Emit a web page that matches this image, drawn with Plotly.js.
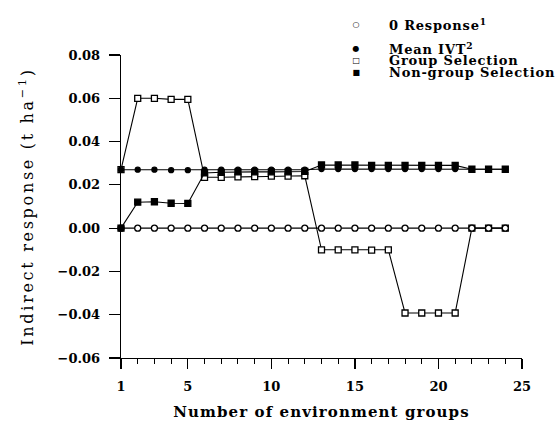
<!DOCTYPE html>
<html>
<head>
<meta charset="utf-8">
<script src="https://cdn.plot.ly/plotly-3.0.1.min.js"></script>
<style>
html,body{margin:0;padding:0;background:#fff;}
#chart{width:556px;height:421px;}
#chart .xtitle{letter-spacing:1.1px;}
#chart .ytitle{letter-spacing:2.7px;}
#chart .annotation-text{letter-spacing:0.8px;}
</style>
</head>
<body>
<div id="chart"></div>
<script>
// ---- data ----
var envGroups = [1,2,3,4,5,6,7,8,9,10,11,12,13,14,15,16,17,18,19,20,21,22,23,24];
var zeroResponse = [0,0,0,0,0,0,0,0,0,0,0,0,0,0,0,0,0,0,0,0,0,0,0,0];
var meanIVT = [0.027,0.027,0.027,0.0268,0.0268,0.027,0.027,0.027,0.027,0.027,0.027,0.027,
               0.0273,0.0273,0.0273,0.0273,0.0273,0.0273,0.0273,0.0273,0.0273,0.0272,0.0272,0.0272];
var groupSel = [0.027,0.060,0.060,0.0595,0.0595,0.0235,0.0235,0.0237,0.0238,0.024,0.024,0.0242,
                -0.010,-0.010,-0.010,-0.0102,-0.010,-0.0392,-0.0392,-0.0392,-0.0392,0,0,0];
var nonGroupSel = [0,0.012,0.0122,0.0115,0.0114,0.0255,0.0258,0.026,0.026,0.026,0.026,0.0262,
                   0.0292,0.0292,0.0292,0.029,0.029,0.029,0.029,0.029,0.029,0.0272,0.0272,0.0272];
var seriesNames = ["0 Response<sup>1</sup>", "Mean IVT<sup>2</sup>", "Group Selection", "Non-group Selection"];
var legendGlyphs = ["\u25CB", "\u25CF", "\u25A1", "\u25A0"];
var xTickVals = [1,5,10,15,20,25];
var yTickVals = [-0.06,-0.04,-0.02,0,0.02,0.04,0.06,0.08];
var xTitle = "Number of environment groups";
var yTitle = "Indirect response (t ha<sup>\u22121</sup>)";

var FONT = "DejaVu Serif";
function trace(y, symbol, size, fill) {
  return {
    x: envGroups, y: y, type: "scatter", mode: "lines+markers", showlegend: false,
    cliponaxis: false,
    line: {color: "#000", width: 1.1},
    marker: {symbol: symbol, size: size, color: fill, line: {color: "#000", width: 1.3}}
  };
}
var data = [
  trace(groupSel, "square", 6, "#fff"),
  trace(zeroResponse, "circle", 6, "#fff"),
  trace(meanIVT, "circle", 5, "#000"),
  trace(nonGroupSel, "square", 6, "#000")
];

// legend rows drawn as text (glyph + label)
var rowY = [1.102, 1.023, 0.982, 0.942];
var annotations = [];
for (var i = 0; i < seriesNames.length; i++) {
  annotations.push({xref: "paper", yref: "paper", x: 0.5885, y: rowY[i], xanchor: "center", yanchor: "middle",
    text: legendGlyphs[i], showarrow: false, font: {family: "DejaVu Sans", size: 8, color: "#000"}});
  annotations.push({xref: "paper", yref: "paper", x: 0.664, y: rowY[i], xanchor: "left", yanchor: "middle",
    align: "left", text: "<b>" + seriesNames[i] + "</b>", showarrow: false,
    font: {family: FONT, size: 13, color: "#000"}});
}

var layout = {
  width: 556, height: 421,
  margin: {l: 121, r: 34, t: 55, b: 63},
  paper_bgcolor: "#fff", plot_bgcolor: "#fff",
  showlegend: false,
  font: {family: FONT, color: "#000"},
  xaxis: {
    range: [1, 25], tickvals: xTickVals, ticktext: xTickVals.map(String),
    showgrid: false, zeroline: false, showline: true, linecolor: "#000", linewidth: 1.3,
    ticks: "outside", ticklen: 10, tickwidth: 1.2, tickcolor: "#000",
    minor: {dtick: 1, tick0: 0, ticks: "outside", ticklen: 5, tickwidth: 1, tickcolor: "#000", showgrid: false},
    tickfont: {family: FONT, size: 13, weight: "bold"},
    ticklabelstandoff: 6,
    title: {text: "<b>" + xTitle + "</b>", font: {family: FONT, size: 15}, standoff: 14}
  },
  yaxis: {
    range: [-0.06, 0.08], tickvals: yTickVals, tickformat: ".2f",
    showgrid: false, zeroline: false, showline: true, linecolor: "#000", linewidth: 1.3,
    ticks: "outside", ticklen: 11, tickwidth: 1.2, tickcolor: "#000",
    tickfont: {family: FONT, size: 13, weight: "bold"},
    ticklabelstandoff: 6,
    title: {text: yTitle, font: {family: FONT, size: 16}, standoff: 20}
  },
  annotations: annotations
};
Plotly.newPlot("chart", data, layout, {staticPlot: true, displayModeBar: false});
</script>
</body>
</html>
